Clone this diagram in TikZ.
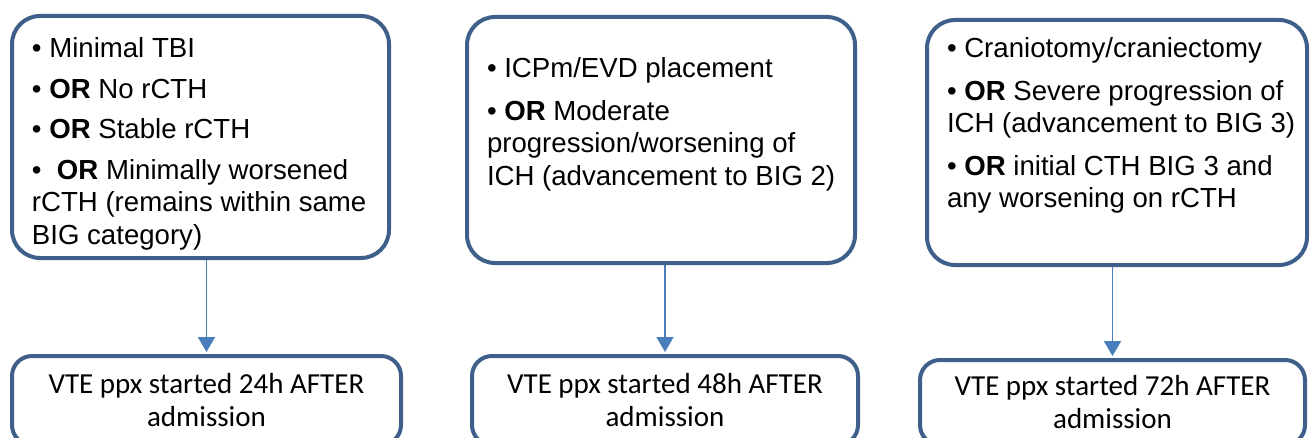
\documentclass[tikz,border=0pt]{standalone}
\usepackage{fontspec}
\setmainfont{Liberation Sans}
\newfontfamily\calibrifont{Carlito}
\usepackage{tikz}
\usetikzlibrary{arrows.meta}
\definecolor{boxblue}{HTML}{3E5F8A}
\definecolor{lineblue}{HTML}{4A7EBB}
\tikzstyle{cond}   = [draw=boxblue, line width=2pt, rounded corners=14pt, inner xsep=10pt, inner ysep=0pt]
\tikzstyle{result} = [draw=boxblue, line width=2pt, rounded corners=10pt, align=center, font=\calibrifont\fontsize{14.5}{16.5}\selectfont]
\tikzstyle{arrow}  = [draw=lineblue, line width=0.9pt, -{Triangle[width=8.5pt,length=7.5pt]}, shorten >=1pt]
% text may run a little past the right padding, as in the original
\newcommand{\condtext}[3]{\makebox[#2][l]{\parbox[c][#1][t]{200pt}{\fontsize{13.8}{16.25}\selectfont\raggedright #3}}}

\begin{document}
\begin{tikzpicture}[x=0.5pt, y=-0.5pt]
	\useasboundingbox (0,0) rectangle (1310,438);
	\clip (0,0) rectangle (1310,438);

	% criteria
	\node[cond] (cond1) at (200.5,137) {\condtext{121pt}{168.5pt}{\vspace*{11pt}%
		\textbullet\ Minimal TBI\\[4pt]
		\textbullet\ \textbf{OR} No rCTH\\[4pt]
		\textbullet\ \textbf{OR} Stable rCTH\\[4pt]
		\textbullet\ \ \textbf{OR} Minimally worsened\\
		rCTH (remains within same\\
		BIG category)}};
	\node[cond] (cond2) at (661,140) {\condtext{123pt}{174pt}{\vspace*{20.5pt}%
		\textbullet\ ICPm/EVD placement\\[5pt]
		\textbullet\ \textbf{OR} Moderate\\
		progression/worsening of\\
		ICH (advancement to BIG 2)}};
	\node[cond] (cond3) at (1117,142.5) {\condtext{122.5pt}{170pt}{\vspace*{9pt}%
		\textbullet\ Craniotomy/craniectomy\\[5pt]
		\textbullet\ \textbf{OR} Severe progression of\\
		ICH (advancement to BIG 3)\\[5pt]
		\textbullet\ \textbf{OR} initial CTH BIG 3 and\\
		any worsening on rCTH}};

	% timing
	\node[result, minimum width=194.5pt, minimum height=44.5pt] (res1) at (206.5,400.5) {VTE ppx started 24h AFTER\\ admission};
	\node[result, minimum width=193pt, minimum height=44.5pt] (res2) at (665,400.5) {VTE ppx started 48h AFTER\\ admission};
	\node[result, minimum width=192.5pt, minimum height=42.5pt] (res3) at (1112.5,402.5) {VTE ppx started 72h AFTER\\ admission};

	\draw[arrow] (cond1.south -| res1.north) -- (res1.north);
	\draw[arrow] (cond2.south -| res2.north) -- (res2.north);
	\draw[arrow] (cond3.south -| res3.north) -- (res3.north);
\end{tikzpicture}
\end{document}
